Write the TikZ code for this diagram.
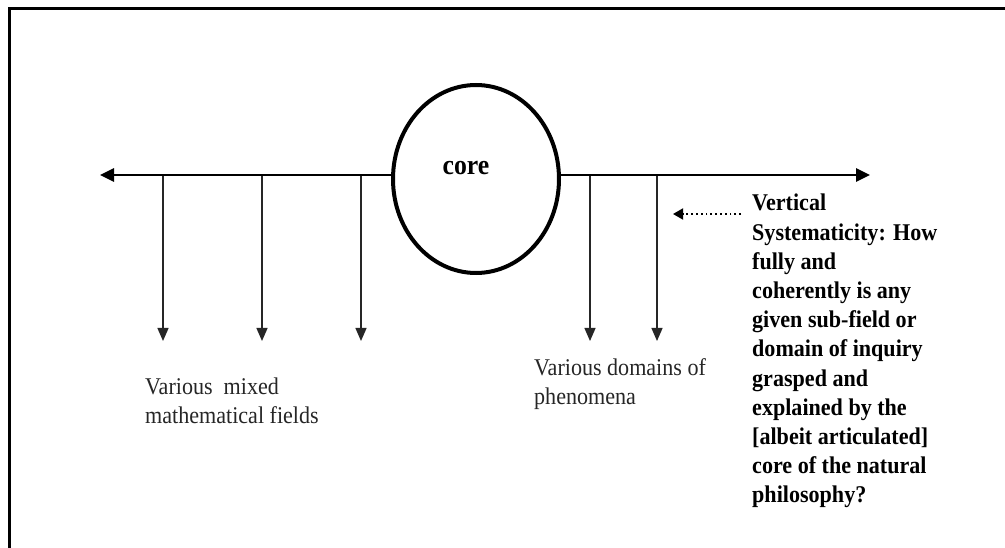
\documentclass[tikz,border=0pt]{standalone}
\usepackage{fontspec}
\setmainfont{Liberation Serif}[FakeStretch=0.92]
\usetikzlibrary{arrows.meta,shapes.geometric}
\tikzset{
  frameline/.style={line width=3pt,black},
  axis/.style={line width=2.8pt,black},
  drop/.style={line width=1.3pt,black!85,-{Triangle[length=13pt,width=11pt]}},
  hint/.style={line width=1.8pt,dash pattern=on 1.8pt off 3pt,black,-{Triangle[length=10pt,width=11pt]}},
  coreshape/.style={ellipse,draw,line width=4pt,fill=white,minimum width=166pt,minimum height=188pt,inner sep=0pt},
  lbl/.style={inner sep=0pt,anchor=north west,align=left,text=black!85,font=\fontsize{24}{29}\selectfont},
  blbl/.style={inner sep=0pt,anchor=north west,align=left,font=\fontsize{24}{29.2}\selectfont\bfseries}
}
\begin{document}
\begin{tikzpicture}[x=1pt,y=-1pt]
\useasboundingbox (0,0) rectangle (1005,548);
\fill[white] (0,0) rectangle (1005,548);
% frame (top and left edges)
\coordinate (ftl) at (9,8.5);
\coordinate (ftr) at (1005,8.5);
\coordinate (fbl) at (9,548);
\draw[frameline] (ftr) -- (ftl) -- (fbl);
% horizontal axis
\coordinate (axL) at (100,175);
\coordinate (axR) at (870,175);
\coordinate (axC) at (476,175);
\draw[axis,-{Triangle[length=14pt,width=13pt]}] (axC) -- (axL);
\draw[axis,-{Triangle[length=14pt,width=13pt]}] (axC) -- (axR);
% core
\node[coreshape] (core) at (476,179) {};
\node[font=\fontsize{28}{30}\selectfont\bfseries] (coretxt) at (466,168) {core};
% drops
\foreach \n/\x in {a/163,b/262,c/361,d/590,e/657}{
  \coordinate (s\n) at (\x,176);
  \coordinate (t\n) at (\x,341);
  \draw[drop] (s\n) -- (t\n);
}
% labels
\node[lbl] (mixed) at (145,378) {Various\ \ mixed\\mathematical fields};
\node[lbl] (domains) at (534,358) {Various domains of\\phenomena};
\node[blbl] (vs) at (752,194) {Vertical\\Systematicity: How\\fully and\\coherently is any\\given sub-field or\\domain of inquiry\\grasped and\\explained by the\\{[albeit articulated]}\\core of the natural\\philosophy?};
\coordinate (hs) at (741,214);
\coordinate (he) at (673,214);
\draw[hint] (hs) -- (he);
\end{tikzpicture}
\end{document}
